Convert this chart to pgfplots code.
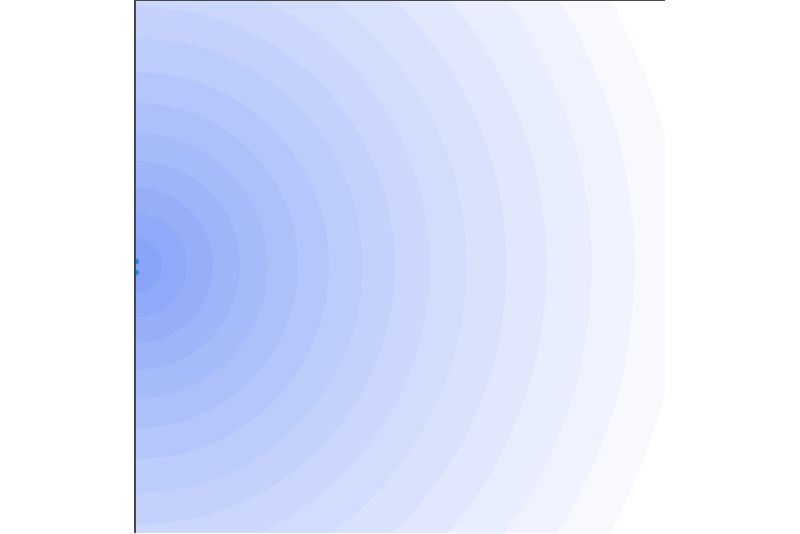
\documentclass[border=0pt]{standalone}
\usepackage{pgfplots}
\pgfplotsset{compat=1.18}
\definecolor{c0}{RGB}{136,164,248}
\definecolor{c1}{RGB}{143,170,248}
\definecolor{c2}{RGB}{151,175,249}
\definecolor{c3}{RGB}{158,181,249}
\definecolor{c4}{RGB}{166,187,250}
\definecolor{c5}{RGB}{173,192,250}
\definecolor{c6}{RGB}{180,198,251}
\definecolor{c7}{RGB}{188,204,251}
\definecolor{c8}{RGB}{195,209,252}
\definecolor{c9}{RGB}{203,215,252}
\definecolor{c10}{RGB}{210,221,253}
\definecolor{c11}{RGB}{217,226,253}
\definecolor{c12}{RGB}{225,232,254}
\definecolor{c13}{RGB}{232,238,254}
\definecolor{c14}{RGB}{240,243,255}
\definecolor{c15}{RGB}{247,249,255}
\definecolor{dotblue}{RGB}{30,136,229}
\begin{document}
\begin{tikzpicture}
\path[use as bounding box] (0,0) rectangle (800pt,533pt);
\begin{axis}[
  at={(135pt,0pt)}, anchor=south west,
  scale only axis, width=530pt, height=532.5pt,
  xmin=0, xmax=530, ymin=-267.5, ymax=265,
  axis x line*=top, axis y line*=left,
  xtick=\empty, ytick=\empty,
  axis line style={draw=black!72, line width=1.1pt},
  axis on top,
  clip marker paths=true,
]
\addplot[fill=c15, draw=none, data cs=polar, smooth] coordinates {(-90,545)(-75,545)(-60,545)(-45,545)(-30,545)(-15,545)(0,545)(15,545)(30,545)(45,545)(60,545)(75,545)(90,545)};
\addplot[fill=c14, draw=none, data cs=polar, smooth] coordinates {(-90,500)(-75,500)(-60,500)(-45,500)(-30,500)(-15,500)(0,500)(15,500)(30,500)(45,500)(60,500)(75,500)(90,500)};
\addplot[fill=c13, draw=none, data cs=polar, smooth] coordinates {(-90,457)(-75,457)(-60,457)(-45,457)(-30,457)(-15,457)(0,457)(15,457)(30,457)(45,457)(60,457)(75,457)(90,457)};
\addplot[fill=c12, draw=none, data cs=polar, smooth] coordinates {(-90,412)(-75,412)(-60,412)(-45,412)(-30,412)(-15,412)(0,412)(15,412)(30,412)(45,412)(60,412)(75,412)(90,412)};
\addplot[fill=c11, draw=none, data cs=polar, smooth] coordinates {(-90,372)(-75,372)(-60,372)(-45,372)(-30,372)(-15,372)(0,372)(15,372)(30,372)(45,372)(60,372)(75,372)(90,372)};
\addplot[fill=c10, draw=none, data cs=polar, smooth] coordinates {(-90,332)(-75,332)(-60,332)(-45,332)(-30,332)(-15,332)(0,332)(15,332)(30,332)(45,332)(60,332)(75,332)(90,332)};
\addplot[fill=c9, draw=none, data cs=polar, smooth] coordinates {(-90,295)(-75,295)(-60,295)(-45,295)(-30,295)(-15,295)(0,295)(15,295)(30,295)(45,295)(60,295)(75,295)(90,295)};
\addplot[fill=c8, draw=none, data cs=polar, smooth] coordinates {(-90,260)(-75,260)(-60,260)(-45,260)(-30,260)(-15,260)(0,260)(15,260)(30,260)(45,260)(60,260)(75,260)(90,260)};
\addplot[fill=c7, draw=none, data cs=polar, smooth] coordinates {(-90,228)(-75,228)(-60,228)(-45,228)(-30,228)(-15,228)(0,228)(15,228)(30,228)(45,228)(60,228)(75,228)(90,228)};
\addplot[fill=c6, draw=none, data cs=polar, smooth] coordinates {(-90,194)(-75,194)(-60,194)(-45,194)(-30,194)(-15,194)(0,194)(15,194)(30,194)(45,194)(60,194)(75,194)(90,194)};
\addplot[fill=c5, draw=none, data cs=polar, smooth] coordinates {(-90,163)(-75,163)(-60,163)(-45,163)(-30,163)(-15,163)(0,163)(15,163)(30,163)(45,163)(60,163)(75,163)(90,163)};
\addplot[fill=c4, draw=none, data cs=polar, smooth] coordinates {(-90,133)(-75,133)(-60,133)(-45,133)(-30,133)(-15,133)(0,133)(15,133)(30,133)(45,133)(60,133)(75,133)(90,133)};
\addplot[fill=c3, draw=none, data cs=polar, smooth] coordinates {(-90,105)(-75,105)(-60,105)(-45,105)(-30,105)(-15,105)(0,105)(15,105)(30,105)(45,105)(60,105)(75,105)(90,105)};
\addplot[fill=c2, draw=none, data cs=polar, smooth] coordinates {(-90,78)(-75,78)(-60,78)(-45,78)(-30,78)(-15,78)(0,78)(15,78)(30,78)(45,78)(60,78)(75,78)(90,78)};
\addplot[fill=c1, draw=none, data cs=polar, smooth] coordinates {(-90,52)(-75,52)(-60,52)(-45,52)(-30,52)(-15,52)(0,52)(15,52)(30,52)(45,52)(60,52)(75,52)(90,52)};
\addplot[fill=c0, draw=none, data cs=polar, smooth] coordinates {(-90,27)(-75,27)(-60,27)(-45,27)(-30,27)(-15,27)(0,27)(15,27)(30,27)(45,27)(60,27)(75,27)(90,27)};
\addplot[only marks, mark=*, mark size=2.6pt, color=dotblue] coordinates {(1.2,4) (1.2,-7)};
\end{axis}
\end{tikzpicture}
\end{document}
